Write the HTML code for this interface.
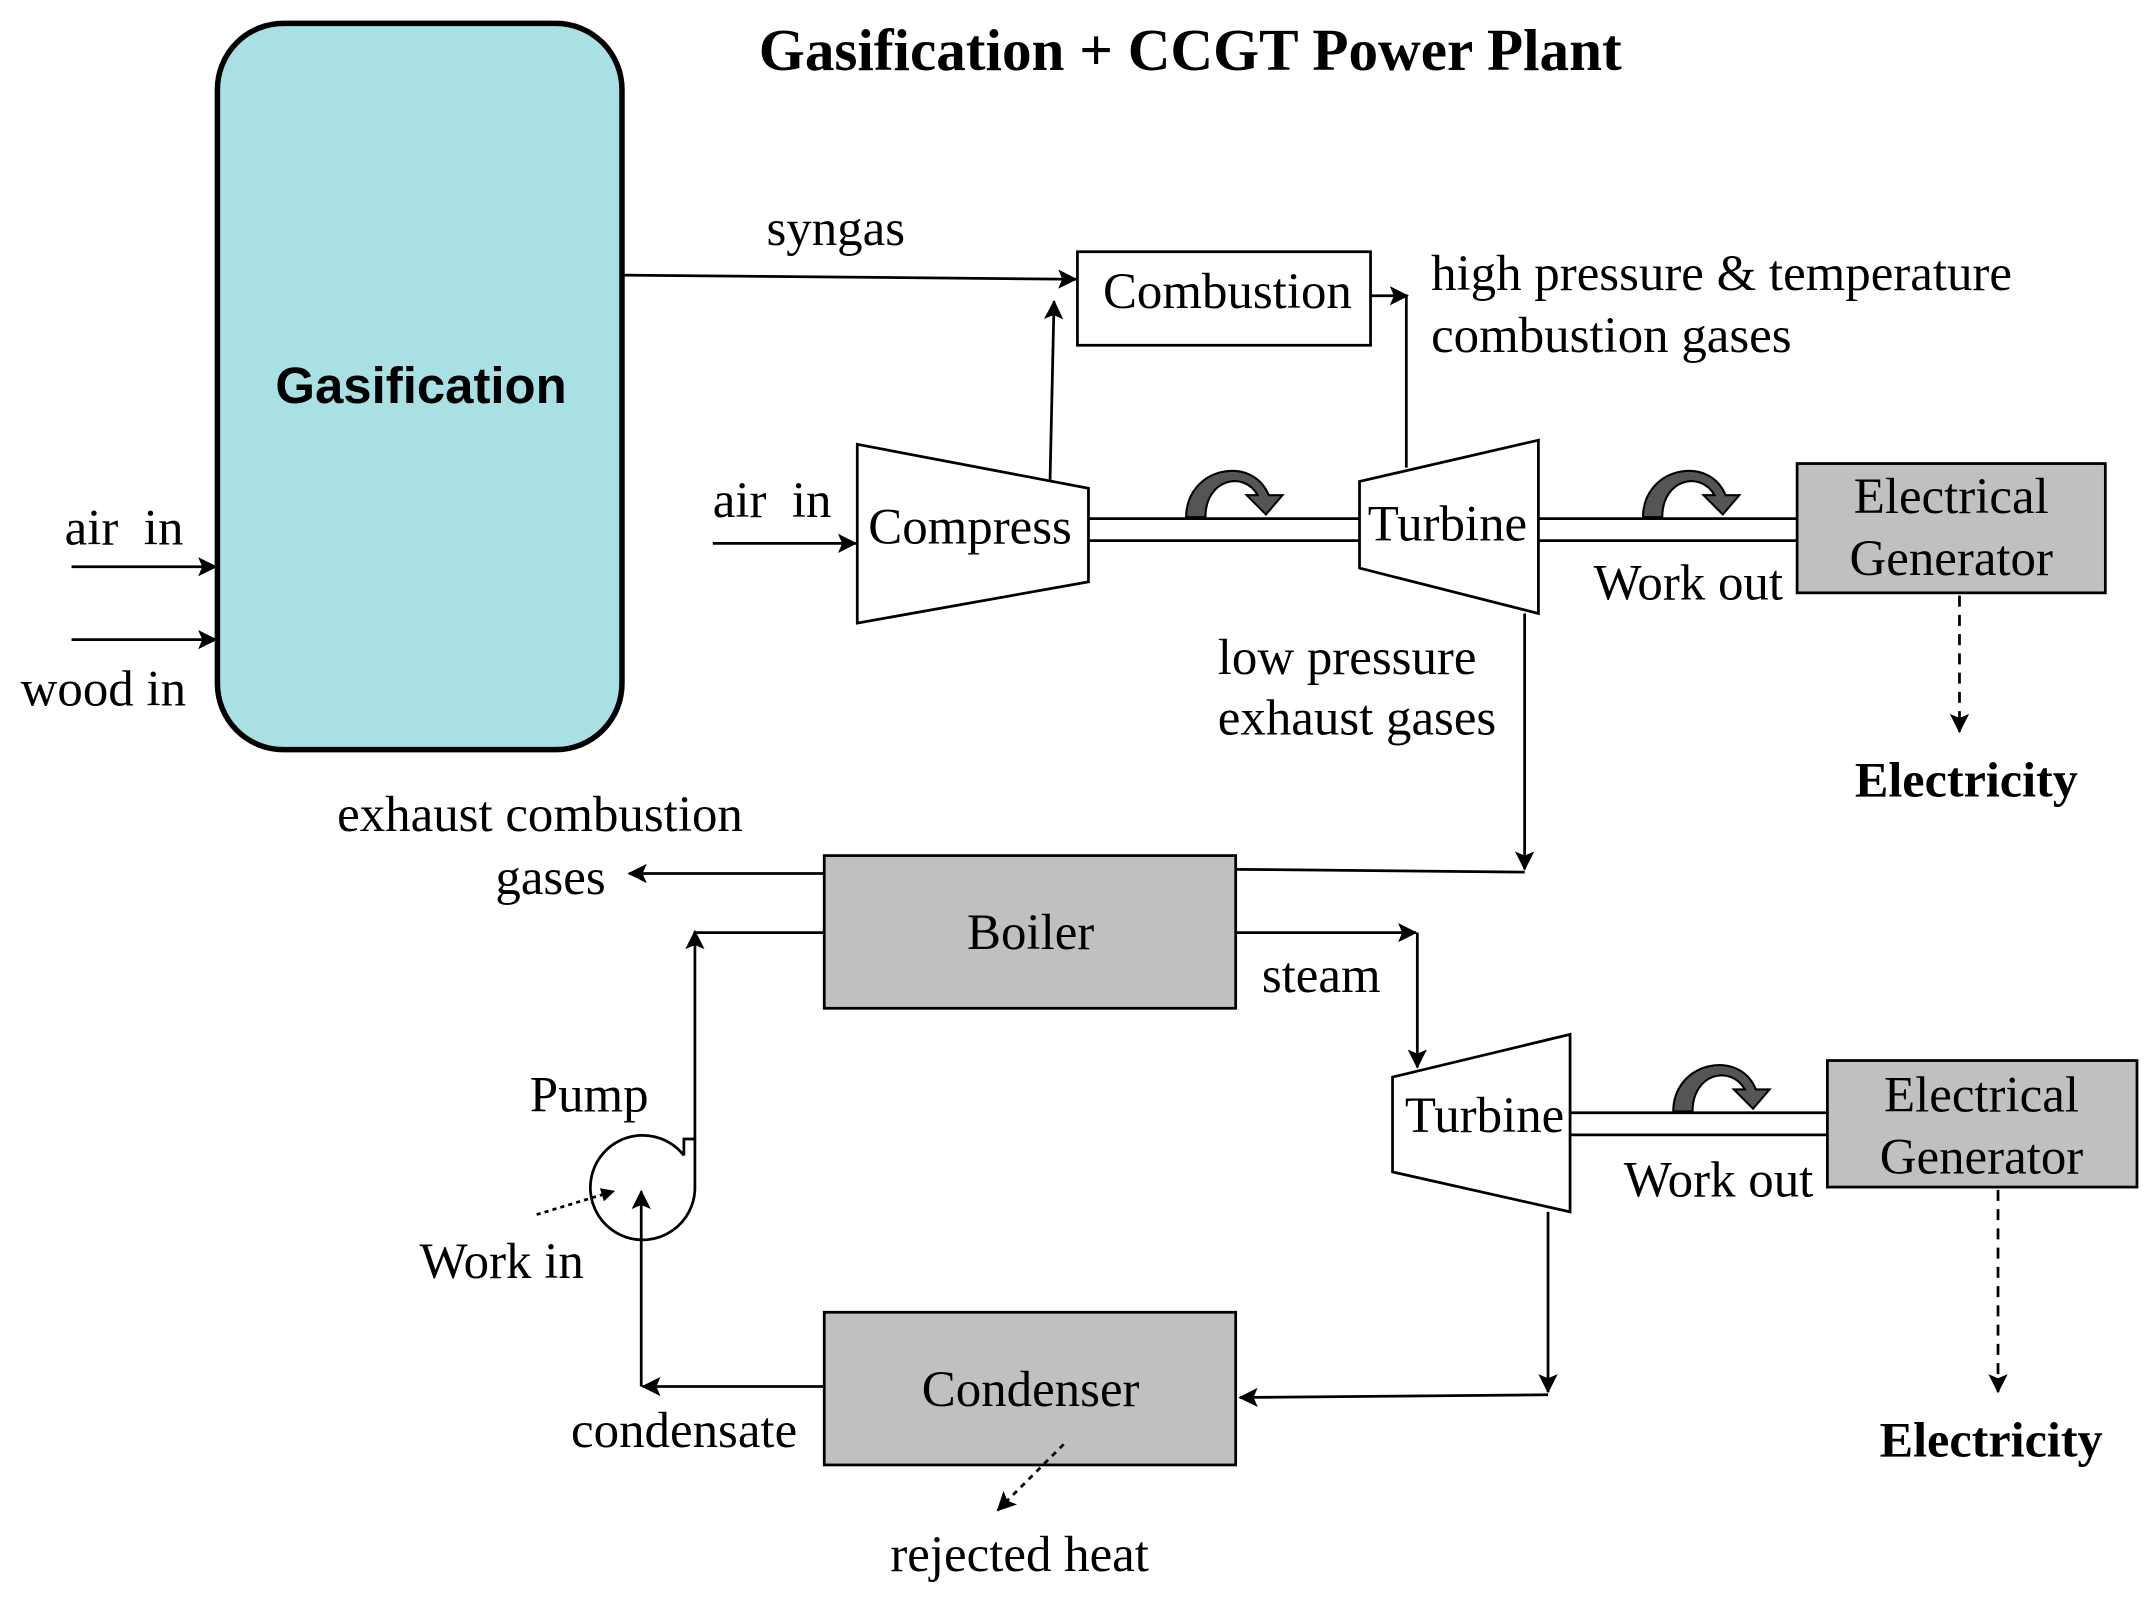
<!DOCTYPE html>
<html><head><meta charset="utf-8"><style>
html,body{margin:0;padding:0;background:#fff;}
svg{display:block;}
text{font-family:"Liberation Serif",serif;font-size:37px;fill:#000;}
</style></head><body>
<svg width="2148" height="1597" viewBox="0 0 1561 1161" preserveAspectRatio="none" xmlns="http://www.w3.org/2000/svg">
<defs>
<marker id="a" markerWidth="10" markerHeight="10" refX="9" refY="5" orient="auto" markerUnits="userSpaceOnUse" viewBox="0 0 10 10">
<path d="M0,0 L10,5 L0,10 z" fill="#000"/></marker>
<marker id="b" markerWidth="14" markerHeight="14" refX="13" refY="7" orient="auto" markerUnits="userSpaceOnUse" viewBox="0 0 14 14">
<path d="M0,0 L14,7 L0,14 L3,7 z" fill="#000"/></marker>
</defs>
<g stroke="#000" stroke-width="2" fill="none">
<text x="865" y="51" text-anchor="middle" style="font-weight:bold;font-size:43px" stroke="none">Gasification + CCGT Power Plant</text>
<rect x="158" y="17" width="294" height="528" rx="48" fill="#a8e0e4" stroke-width="4"/>
<text x="306" y="293" text-anchor="middle" stroke="none" style="font-family:'Liberation Sans',sans-serif;font-weight:bold;font-size:37px">Gasification</text>
<line x1="52" y1="412" x2="157" y2="412" marker-end="url(#b)"/>
<line x1="52" y1="465" x2="157" y2="465" marker-end="url(#b)"/>
<text x="47" y="396" stroke="none">air&#160;&#160;in</text>
<text x="15" y="513" stroke="none">wood in</text>
<line x1="452" y1="200" x2="782" y2="203" marker-end="url(#b)"/>
<text x="557" y="178" stroke="none">syngas</text>
<rect x="783" y="183" width="213" height="68" fill="#fff"/>
<text x="892" y="224" text-anchor="middle" stroke="none">Combustion</text>
<line x1="996" y1="215" x2="1023" y2="215" marker-end="url(#b)"/>
<line x1="1022" y1="215" x2="1022" y2="340"/>
<text x="1040" y="211" stroke="none">high pressure &amp; temperature</text>
<text x="1040" y="256" stroke="none">combustion gases</text>
<line x1="763" y1="353" x2="766" y2="219" marker-end="url(#b)"/>
<text x="518" y="376" stroke="none">air&#160;&#160;in</text>
<line x1="518" y1="395" x2="622" y2="395" marker-end="url(#b)"/>
<line x1="791" y1="377" x2="988" y2="377"/>
<line x1="791" y1="393" x2="988" y2="393"/>
<polygon points="623,323 791,355 791,423 623,453" fill="#fff"/>
<text x="631" y="395" stroke="none">Compress</text>
<polygon points="988,350 1118,320 1118,446 988,413" fill="#fff"/>
<text x="994" y="393" stroke="none">Turbine</text>
<line x1="1118" y1="377" x2="1306" y2="377"/>
<line x1="1118" y1="393" x2="1306" y2="393"/>
<text x="1158" y="436" stroke="none">Work out</text>
<rect x="1306" y="337" width="224" height="94" fill="#c0c0c0"/>
<text x="1418" y="373" text-anchor="middle" stroke="none">Electrical</text>
<text x="1418" y="418" text-anchor="middle" stroke="none">Generator</text>
<line x1="1424" y1="433" x2="1424" y2="532" stroke-dasharray="8,6" marker-end="url(#b)"/>
<text x="1429" y="579" text-anchor="middle" stroke="none" style="font-weight:bold;font-size:36.5px">Electricity</text>
<line x1="1108" y1="446" x2="1108" y2="632" marker-end="url(#b)"/>
<line x1="898" y1="632" x2="1108" y2="634"/>
<text x="885" y="490" stroke="none">low pressure</text>
<text x="885" y="534" stroke="none">exhaust gases</text>
<rect x="599" y="622" width="299" height="111" fill="#c0c0c0"/>
<text x="749" y="690" text-anchor="middle" stroke="none">Boiler</text>
<line x1="599" y1="635" x2="457" y2="635" marker-end="url(#b)"/>
<text x="245" y="604" stroke="none">exhaust combustion</text>
<text x="360" y="650" stroke="none">gases</text>
<line x1="898" y1="678" x2="1029" y2="678" marker-end="url(#b)"/>
<line x1="1030" y1="678" x2="1030" y2="776" marker-end="url(#b)"/>
<text x="917" y="721" stroke="none">steam</text>
<line x1="1141" y1="809" x2="1328" y2="809"/>
<line x1="1141" y1="825" x2="1328" y2="825"/>
<polygon points="1012,783 1141,752 1141,881 1012,852" fill="#fff"/>
<text x="1021" y="823" stroke="none">Turbine</text>
<text x="1180" y="870" stroke="none">Work out</text>
<rect x="1328" y="771" width="225" height="92" fill="#c0c0c0"/>
<text x="1440" y="808" text-anchor="middle" stroke="none">Electrical</text>
<text x="1440" y="853" text-anchor="middle" stroke="none">Generator</text>
<line x1="1452" y1="865" x2="1452" y2="1012" stroke-dasharray="8,6" marker-end="url(#b)"/>
<text x="1447" y="1059" text-anchor="middle" stroke="none" style="font-weight:bold;font-size:36.5px">Electricity</text>
<line x1="1125" y1="881" x2="1125" y2="1012" marker-end="url(#b)"/>
<line x1="1125" y1="1014" x2="901" y2="1016" marker-end="url(#b)"/>
<rect x="599" y="954" width="299" height="111" fill="#c0c0c0"/>
<text x="749" y="1022" text-anchor="middle" stroke="none">Condenser</text>
<line x1="773" y1="1050" x2="725" y2="1098" stroke-dasharray="4,4" marker-end="url(#b)"/>
<text x="741" y="1142" text-anchor="middle" stroke="none">rejected heat</text>
<line x1="599" y1="1008" x2="467" y2="1008" marker-end="url(#b)"/>
<text x="415" y="1052" stroke="none">condensate</text>
<path d="M497,840 L497,828 L505,828 L505,865 A38,38 0 1 1 497,840" fill="#fff"/>
<line x1="466" y1="1008" x2="466" y2="866" marker-end="url(#b)"/>
<line x1="505" y1="828" x2="505" y2="677" marker-end="url(#b)"/>
<line x1="505" y1="678" x2="599" y2="678"/>
<text x="385" y="808" stroke="none">Pump</text>
<text x="305" y="929" stroke="none">Work in</text>
<line x1="390" y1="883" x2="446" y2="866" stroke-dasharray="3,3" marker-end="url(#a)"/>
</g>
<g fill="#555" stroke="#000" stroke-width="1.5">
<path d="M862,376 C862,340 910,330 922,360 L932,360 L920,374 L906,360 L914,360 C904,342 876,348 876,376 Z"/>
<path d="M1194,376 C1194,340 1242,330 1254,360 L1264,360 L1252,374 L1238,360 L1246,360 C1236,342 1208,348 1208,376 Z"/>
<path d="M1216,808 C1216,772 1264,762 1276,792 L1286,792 L1274,806 L1260,792 L1268,792 C1258,774 1230,780 1230,808 Z"/>
</g>
</svg>
</body></html>
